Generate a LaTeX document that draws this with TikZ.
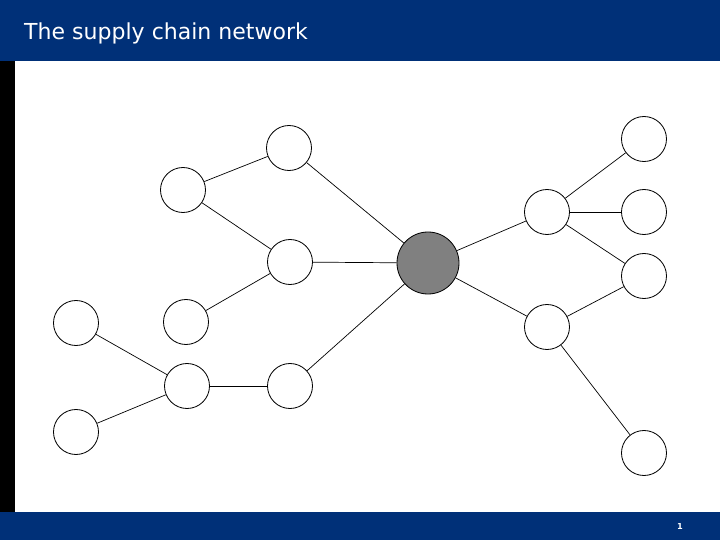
\documentclass[tikz,border=0pt]{standalone}
\usepackage{fontspec}
\setmainfont{DejaVu Sans}
\definecolor{barblue}{RGB}{0,48,120}
\definecolor{hubgray}{RGB}{128,128,128}

\begin{document}
\begin{tikzpicture}[x=0.03cm, y=-0.03cm,
    site/.style={circle, draw, line width=0.7pt, fill=white, minimum size=1.35cm, inner sep=0pt},
    hub/.style={circle, draw, line width=0.7pt, fill=hubgray, minimum size=1.86cm, inner sep=0pt},
    link/.style={line width=0.6pt}]
    % Frame
    \useasboundingbox (0,0) rectangle (720,540);
    \fill[barblue] (0,0) rectangle (720,61);
    \fill[barblue] (0,512) rectangle (720,540);
    \fill[black] (0,61) rectangle (15,512);
    \node[anchor=base west, text=white, font=\fontsize{18.8}{22}\selectfont, inner sep=0pt] (title) at (24,39.5) {The supply chain network};
    \node[text=white, font=\bfseries\scriptsize, inner sep=0pt] (page) at (680,527) {1};
    
    % Nodes
    \node[hub] (hq) at (428,263) {};
    \node[site] (a) at (289,148) {};
    \node[site] (b) at (183,190) {};
    \node[site] (c) at (290,262) {};
    \node[site] (d) at (186,322) {};
    \node[site] (e) at (76,323) {};
    \node[site] (f) at (187,386) {};
    \node[site] (g) at (290,386) {};
    \node[site] (h) at (76,432) {};
    \node[site] (i) at (547,212) {};
    \node[site] (j) at (547,327) {};
    \node[site] (k) at (644,139) {};
    \node[site] (l) at (644,212) {};
    \node[site] (m) at (644,276) {};
    \node[site] (n) at (644,453) {};
    
    % Links
    \draw[link] (b) -- (a);
    \draw[link] (a) -- (hq);
    \draw[link] (b) -- (c);
    \draw[link] (c) -- (hq);
    \draw[link] (d) -- (c);
    \draw[link] (e) -- (f);
    \draw[link] (h) -- (f);
    \draw[link] (f) -- (g);
    \draw[link] (g) -- (hq);
    \draw[link] (hq) -- (i);
    \draw[link] (hq) -- (j);
    \draw[link] (i) -- (k);
    \draw[link] (i) -- (l);
    \draw[link] (i) -- (m);
    \draw[link] (j) -- (m);
    \draw[link] (j) -- (n);
\end{tikzpicture}
\end{document}
